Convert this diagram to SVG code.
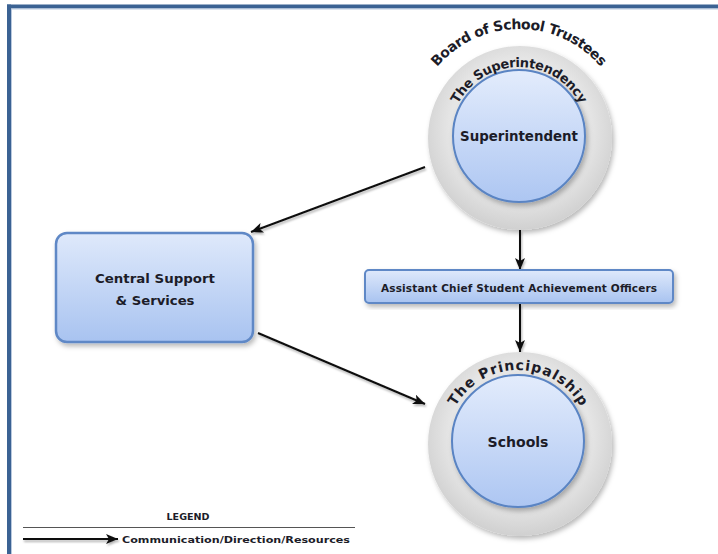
<svg xmlns="http://www.w3.org/2000/svg" width="718" height="554" viewBox="0 0 718 554">
<style>
.t{font-family:"DejaVu Sans","Liberation Sans",sans-serif;font-weight:bold;fill:#1c1c28}
.conn{stroke:#111;stroke-width:2;fill:none}
</style>
<defs>
<radialGradient id="grey" cx="50%" cy="45%" r="55%">
<stop offset="0" stop-color="#f2f2f2"/>
<stop offset="0.7" stop-color="#e5e5e5"/>
<stop offset="1" stop-color="#d0d0d0"/>
</radialGradient>
<linearGradient id="blue" x1="0" y1="0" x2="0" y2="1">
<stop offset="0" stop-color="#e3ecfc"/>
<stop offset="1" stop-color="#adc6f2"/>
</linearGradient>
<linearGradient id="boxblue" x1="0" y1="0" x2="0" y2="1">
<stop offset="0" stop-color="#dfe9fb"/>
<stop offset="1" stop-color="#a8c3f0"/>
</linearGradient>
<filter id="sh" x="-20%" y="-20%" width="140%" height="140%">
<feDropShadow dx="2" dy="3" stdDeviation="2.5" flood-color="#000" flood-opacity="0.28"/>
</filter>
<filter id="ash" filterUnits="userSpaceOnUse" x="0" y="0" width="718" height="554">
<feDropShadow dx="1" dy="2" stdDeviation="1.2" flood-color="#000" flood-opacity="0.3"/>
</filter>
<marker id="arr" markerUnits="userSpaceOnUse" markerWidth="14" markerHeight="12" refX="12" refY="5" orient="auto">
<path d="M0,0 L12,5 L0,10 L3,5 Z" fill="#111"/>
</marker>
<path id="arcBoard" d="M412,136 A107,107 0 0 1 626,136"/>
<path id="arcSup" d="M450,136 A69,69 0 0 1 588,136"/>
<path id="arcPrin" d="M446,442 A72,72 0 0 1 590,442"/>
</defs>

<g id="frame">
<rect x="0" y="0" width="718" height="554" fill="#fff"/>
<line x1="7" y1="6.5" x2="718" y2="6.5" stroke="#3b6293" stroke-width="4"/>
<line x1="9" y1="4.5" x2="9" y2="554" stroke="#3b6293" stroke-width="4"/>
<line x1="11.5" y1="9" x2="718" y2="9" stroke="#b9c9de" stroke-width="1"/>
<line x1="11.5" y1="9" x2="11.5" y2="554" stroke="#b9c9de" stroke-width="1"/>
</g>

<g id="connectors" filter="url(#ash)">
<line class="conn" x1="425" y1="167" x2="251" y2="232" marker-end="url(#arr)"/>
<line class="conn" x1="258" y1="333" x2="425" y2="404" marker-end="url(#arr)"/>
<line class="conn" x1="520" y1="230" x2="520" y2="270" marker-end="url(#arr)"/>
<line class="conn" x1="520" y1="304" x2="520" y2="352" marker-end="url(#arr)"/>
</g>

<g id="superintendency">
<circle cx="520" cy="138" r="92" fill="url(#grey)" filter="url(#sh)"/>
<circle cx="519" cy="136" r="66" fill="url(#blue)" stroke="#5a84c3" stroke-width="2" filter="url(#sh)"/>
<text class="t" font-size="13.5" x="519" y="141" text-anchor="middle" textLength="118" lengthAdjust="spacingAndGlyphs">Superintendent</text>
<text class="t" font-size="13"><textPath href="#arcSup" startOffset="50%" text-anchor="middle" textLength="150" lengthAdjust="spacing">The Superintendency</textPath></text>
<text class="t" font-size="14"><textPath href="#arcBoard" startOffset="50%" text-anchor="middle" textLength="186" lengthAdjust="spacing">Board of School Trustees</textPath></text>
</g>

<g id="central">
<rect x="56" y="233" width="197" height="109" rx="11" fill="url(#boxblue)" stroke="#5f88c6" stroke-width="2.5" filter="url(#sh)"/>
<text class="t" font-size="13" x="155" y="283" text-anchor="middle" textLength="120" lengthAdjust="spacingAndGlyphs">Central Support</text>
<text class="t" font-size="13" x="155" y="305" text-anchor="middle" textLength="79" lengthAdjust="spacingAndGlyphs">&amp; Services</text>
</g>

<g id="officers">
<rect x="365" y="270" width="308" height="33" rx="4" fill="url(#boxblue)" stroke="#5f88c6" stroke-width="2" filter="url(#sh)"/>
<text class="t" font-size="10.5" x="519" y="292" text-anchor="middle" textLength="276" lengthAdjust="spacing">Assistant  Chief Student  Achievement  Officers</text>
</g>

<g id="principalship">
<circle cx="520" cy="444" r="92" fill="url(#grey)" filter="url(#sh)"/>
<circle cx="518" cy="441" r="66" fill="url(#blue)" stroke="#5a84c3" stroke-width="2" filter="url(#sh)"/>
<text class="t" font-size="13.5" x="518" y="447" text-anchor="middle" textLength="61" lengthAdjust="spacingAndGlyphs">Schools</text>
<text class="t" font-size="14"><textPath href="#arcPrin" startOffset="50%" text-anchor="middle" textLength="152" lengthAdjust="spacing">The Principalship</textPath></text>
</g>

<g id="legend">
<text class="t" font-size="9" x="188" y="520" text-anchor="middle" textLength="43" lengthAdjust="spacingAndGlyphs">LEGEND</text>
<line x1="23" y1="527.5" x2="355" y2="527.5" stroke="#555" stroke-width="1.2"/>
<g filter="url(#ash)"><line class="conn" x1="23" y1="539" x2="118" y2="539" marker-end="url(#arr)"/></g>
<text class="t" font-size="9.5" x="122" y="543" textLength="228" lengthAdjust="spacingAndGlyphs">Communication/Direction/Resources</text>
</g>
</svg>
